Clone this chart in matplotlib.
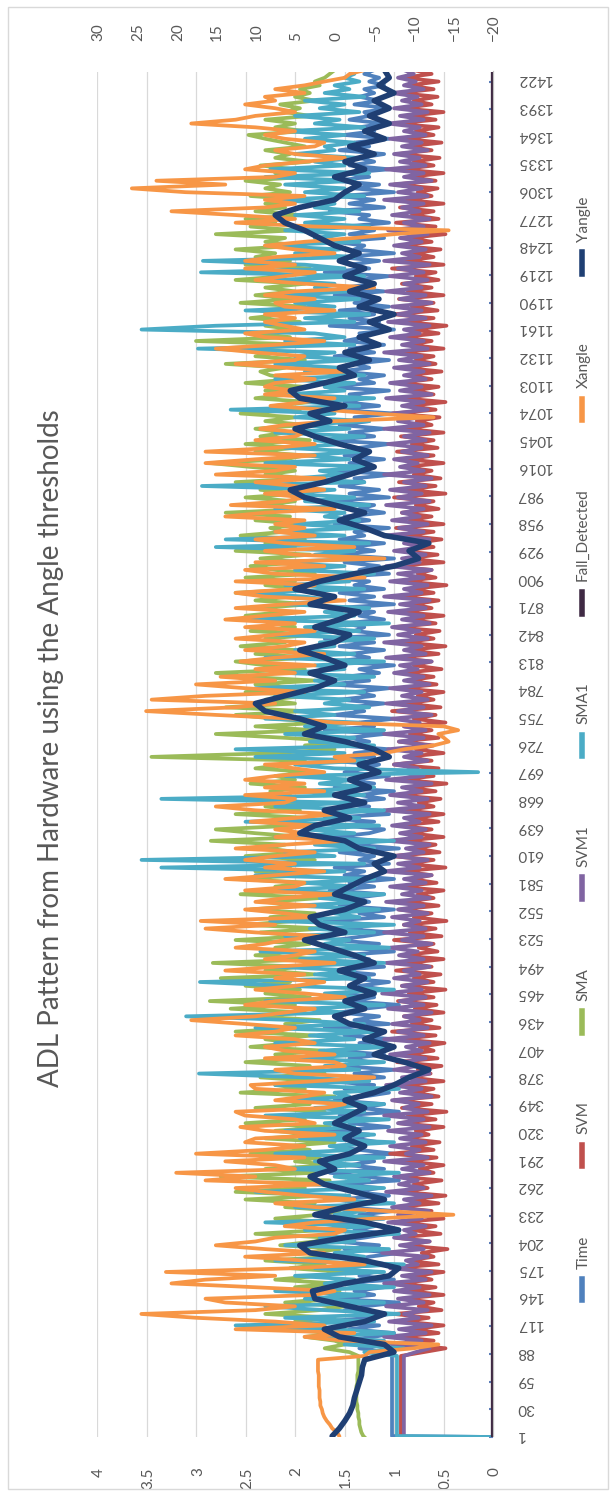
import numpy as np
import matplotlib
matplotlib.use("Agg")
import matplotlib.pyplot as plt
from matplotlib.lines import Line2D
from matplotlib.patches import Rectangle

# sample numbers: the g-force channels every 4th reading, Yangle every 8th
sample = [1, 2] + list(range(6, 1436, 4))
sample_y = [1, 2] + list(range(10, 1440, 8))

time_v = [0, 1.02, 1.02, 1.02, 1.02, 1.02, 1.02, 1.02, 1.02, 1.02, 1.02, 1.02, 1.02, 1.02, 1.02, 1.02, 1.02, 1.02, 1.02, 1.02,
          1.02, 1.02, 1.02, 1.1, 1.35, 1.05, 1.55, 1.2, 1.0, 1.45, 1.15, 1.7, 1.25, 1.05, 1.5, 1.3, 0.95, 1.6, 1.2, 1.4,
          1.1, 1.55, 1.0, 1.35, 1.2, 1.65, 1.05, 1.45, 1.25, 0.95, 1.5, 1.15, 1.6, 1.3, 1.05, 1.4, 1.2, 1.75, 1.1, 1.35,
          1.0, 1.5, 1.25, 1.6, 1.05, 1.4, 1.15, 1.55, 0.95, 1.3, 1.65, 1.1, 1.45, 1.2, 1.5, 1.0, 1.35, 1.6, 1.15, 1.4,
          1.25, 1.7, 1.05, 1.45, 1.2, 1.55, 0.95, 1.35, 1.1, 1.6, 1.3, 1.05, 1.5, 1.2, 1.65, 1.1, 1.4, 1.0, 1.55, 1.25,
          1.45, 1.1, 1.6, 1.2, 1.35, 1.0, 1.5, 1.25, 1.7, 1.05, 1.4, 1.15, 1.55, 1.3, 0.95, 1.45, 1.2, 1.6, 1.1, 1.35,
          1.05, 1.5, 1.2, 1.65, 1.1, 1.4, 1.25, 1.55, 1.0, 1.45, 1.15, 1.6, 1.3, 1.05, 1.5, 1.2, 1.7, 1.1, 1.35, 1.0,
          1.55, 1.25, 1.4, 1.1, 1.65, 1.2, 1.45, 1.0, 1.5, 1.3, 1.6, 1.05, 1.35, 1.2, 1.55, 0.95, 1.4, 1.15, 1.6, 1.25,
          1.1, 1.5, 1.2, 1.7, 1.05, 1.4, 1.25, 1.55, 1.1, 1.35, 1.0, 1.6, 1.2, 1.45, 1.05, 1.5, 1.3, 1.15, 1.65, 1.2,
          1.4, 1.05, 1.55, 1.25, 1.45, 1.1, 1.7, 1.2, 1.35, 1.0, 1.6, 1.3, 1.45, 1.1, 1.55, 1.2, 1.4, 1.05, 1.65, 1.25,
          1.5, 1.15, 1.35, 1.0, 1.6, 1.25, 1.45, 1.1, 1.55, 1.2, 1.7, 1.05, 1.4, 1.3, 1.5, 1.1, 1.35, 1.2, 1.6, 1.0,
          1.45, 1.2, 1.55, 1.1, 1.4, 1.25, 1.65, 1.05, 1.35, 1.15, 1.5, 1.0, 1.6, 1.2, 1.45, 1.1, 1.55, 1.3, 1.4, 1.05,
          1.6, 1.25, 1.5, 1.1, 1.35, 1.2, 1.7, 1.05, 1.45, 1.15, 1.55, 1.3, 1.4, 1.0, 1.6, 1.2, 1.45, 1.1, 1.5, 1.25,
          1.35, 1.05, 1.65, 1.2, 1.45, 1.1, 1.55, 1.25, 1.4, 1.0, 1.6, 1.15, 1.5, 1.3, 1.45, 1.05, 1.7, 1.2, 1.35, 1.1,
          1.55, 1.25, 1.4, 1.05, 1.6, 1.2, 1.45, 1.1, 1.5, 1.3, 1.35, 1.0, 1.65, 1.15, 1.45, 1.2, 1.55, 1.05, 1.4, 1.25,
          1.6, 1.1, 1.5, 1.2, 1.35, 1.05, 1.7, 1.25, 1.45, 1.15, 1.55, 1.0, 1.4, 1.3, 1.6, 1.1, 1.45, 1.2, 1.5, 1.05,
          1.35, 1.25, 1.65, 1.1, 1.45, 1.2, 1.55, 1.0, 1.4, 1.15, 1.6, 1.25, 1.5, 1.05, 1.45, 1.2, 1.35, 1.1, 1.55, 1.25,
          1.4, 1.05, 1.5, 1.2, 1.35, 1.1, 1.45, 1.25, 1.3, 1.05, 1.4, 1.15, 1.35, 1.2, 1.3, 1.1, 1.25, 1.15, 1.3, 1.2]

svm = [0.93, 0.93, 0.93, 0.93, 0.93, 0.93, 0.93, 0.93, 0.93, 0.93, 0.93, 0.93, 0.93, 0.93, 0.93, 0.93, 0.93, 0.93, 0.93, 0.93,
       0.93, 0.93, 0.93, 0.7, 0.48, 0.88, 0.6, 0.95, 0.55, 0.8, 0.5, 0.9, 0.65, 1.0, 0.52, 0.75, 0.6, 0.92, 0.5, 0.85,
       0.58, 0.95, 0.62, 0.78, 0.5, 1.02, 0.55, 0.86, 0.6, 0.72, 0.46, 0.9, 0.64, 0.98, 0.53, 0.82, 0.58, 0.94, 0.5, 0.76,
       0.62, 1.0, 0.55, 0.84, 0.48, 0.92, 0.66, 0.8, 0.52, 0.96, 0.6, 0.74, 0.5, 0.88, 0.57, 1.04, 0.6, 0.82, 0.54, 0.9,
       0.65, 0.78, 0.5, 0.95, 0.58, 0.86, 0.47, 0.92, 0.62, 1.0, 0.55, 0.8, 0.6, 0.93, 0.5, 0.85, 0.63, 0.76, 0.52, 0.97,
       0.56, 0.88, 0.6, 0.74, 0.49, 0.94, 0.58, 1.02, 0.54, 0.82, 0.62, 0.9, 0.5, 0.79, 0.57, 0.96, 0.6, 0.85, 0.48, 0.92,
       0.6, 0.8, 0.53, 0.98, 0.62, 0.86, 0.5, 0.93, 0.56, 0.75, 0.6, 1.0, 0.52, 0.84, 0.58, 0.9, 0.47, 0.8, 0.62, 0.95,
       0.55, 0.88, 0.6, 0.76, 0.5, 0.97, 0.57, 0.83, 0.62, 0.92, 0.48, 0.86, 0.6, 1.03, 0.54, 0.78, 0.58, 0.9, 0.5, 0.84,
       0.62, 0.96, 0.55, 0.8, 0.5, 0.9, 0.6, 0.75, 0.53, 0.98, 0.58, 0.86, 0.47, 0.93, 0.6, 0.82, 0.55, 1.0, 0.62, 0.88,
       0.5, 0.78, 0.6, 0.95, 0.55, 0.84, 0.62, 0.9, 0.48, 0.8, 0.58, 1.02, 0.53, 0.87, 0.6, 0.76, 0.5, 0.94, 0.57, 0.85,
       0.6, 0.92, 0.52, 0.8, 0.62, 0.97, 0.55, 0.86, 0.48, 0.9, 0.6, 0.78, 0.54, 1.0, 0.58, 0.84, 0.5, 0.93, 0.62, 0.8,
       0.55, 0.96, 0.6, 0.82, 0.47, 0.9, 0.58, 0.76, 0.62, 1.02, 0.5, 0.86, 0.56, 0.94, 0.6, 0.8, 0.52, 0.88, 0.6, 0.98,
       0.5, 0.84, 0.62, 0.92, 0.55, 0.78, 0.6, 1.0, 0.48, 0.86, 0.58, 0.95, 0.53, 0.8, 0.62, 0.9, 0.5, 0.85, 0.6, 0.97,
       0.56, 0.82, 0.6, 0.93, 0.5, 0.88, 0.62, 0.77, 0.54, 1.01, 0.58, 0.85, 0.48, 0.92, 0.6, 0.8, 0.55, 0.96, 0.62, 0.86,
       0.52, 0.9, 0.58, 0.78, 0.6, 0.98, 0.5, 0.84, 0.62, 0.93, 0.55, 0.8, 0.47, 0.9, 0.6, 1.0, 0.56, 0.82, 0.6, 0.95,
       0.5, 0.86, 0.62, 0.92, 0.55, 0.78, 0.58, 1.02, 0.5, 0.88, 0.6, 0.8, 0.53, 0.95, 0.62, 0.84, 0.48, 0.9, 0.58, 0.98,
       0.55, 0.82, 0.6, 0.94, 0.5, 0.87, 0.62, 0.76, 0.56, 1.0, 0.58, 0.85, 0.5, 0.92, 0.6, 0.8, 0.54, 0.96, 0.62, 0.86,
       0.52, 0.9, 0.6, 0.78, 0.55, 0.98, 0.58, 0.84, 0.5, 0.92, 0.62, 0.8, 0.56, 0.95, 0.6, 0.85, 0.55, 0.9, 0.62, 0.8]

sma = [1.3, 1.31, 1.33, 1.34, 1.35, 1.35, 1.36, 1.36, 1.37, 1.37, 1.38, 1.38, 1.38, 1.38, 1.38, 1.37, 1.37, 1.37, 1.36, 1.36,
       1.36, 1.36, 1.36, 1.45, 1.7, 1.5, 1.6, 1.9, 1.55, 2.2, 1.7, 2.0, 1.6, 2.3, 1.75, 1.5, 2.1, 1.65, 1.95, 1.55,
       2.0, 1.6, 2.2, 1.75, 1.5, 2.05, 1.7, 2.3, 1.6, 1.9, 1.55, 2.15, 1.8, 1.65, 2.4, 1.7, 1.95, 1.6, 2.2, 1.75,
       1.55, 2.1, 1.8, 2.5, 1.7, 2.6, 1.9, 2.2, 1.65, 2.75, 1.8, 2.3, 1.6, 2.0, 1.75, 2.45, 1.85, 2.1, 1.6, 2.3,
       1.8, 2.2, 1.65, 2.5, 1.9, 2.0, 1.7, 2.4, 1.85, 2.1, 1.6, 2.55, 1.9, 2.2, 1.75, 2.35, 1.7, 2.0, 1.85, 2.5,
       1.9, 2.2, 1.7, 2.45, 2.0, 2.3, 1.8, 2.6, 1.95, 2.1, 1.75, 2.4, 1.9, 2.65, 2.0, 2.86, 1.85, 2.3, 1.95, 2.5,
       2.05, 2.75, 1.8, 2.3, 1.95, 2.83, 1.75, 2.4, 2.0, 2.2, 1.85, 2.6, 1.9, 2.35, 1.7, 2.5, 2.0, 2.25, 1.8, 2.45,
       1.95, 2.3, 1.75, 2.55, 2.0, 2.2, 1.85, 2.6, 1.9, 2.4, 2.05, 2.25, 1.8, 2.5, 1.95, 2.3, 2.1, 2.85, 1.9, 2.4,
       2.8, 2.0, 2.35, 1.85, 2.6, 1.95, 2.3, 1.8, 2.5, 2.05, 2.25, 1.9, 2.45, 2.0, 2.2, 1.85, 2.4, 2.1, 1.9, 3.45,
       2.2, 1.6, 1.9, 1.5, 2.1, 2.8, 1.8, 2.4, 1.7, 2.2, 2.6, 1.9, 2.7, 2.0, 2.3, 1.85, 2.5, 2.0, 2.4, 1.8,
       2.5, 2.8, 1.9, 2.3, 2.6, 1.85, 2.4, 2.0, 2.55, 2.1, 2.3, 1.8, 2.45, 2.0, 2.2, 1.9, 2.5, 2.1, 2.35, 1.85,
       2.4, 2.05, 2.6, 1.9, 2.3, 2.0, 2.5, 1.8, 2.2, 2.45, 1.95, 2.35, 1.85, 2.6, 2.0, 2.3, 1.9, 2.55, 2.1, 2.25,
       1.9, 2.4, 2.05, 2.7, 1.85, 2.3, 2.0, 2.5, 1.95, 2.35, 2.1, 2.6, 1.9, 2.3, 2.0, 2.45, 2.85, 2.1, 1.9, 2.4,
       2.0, 2.5, 1.85, 2.35, 2.1, 2.4, 1.9, 2.3, 2.0, 2.55, 1.95, 2.2, 1.85, 2.4, 2.05, 2.3, 1.9, 2.5, 2.0, 2.25,
       2.35, 2.1, 2.7, 1.9, 2.4, 2.2, 2.5, 1.85, 3.0, 2.05, 2.4, 2.0, 2.3, 1.95, 2.45, 2.1, 2.35, 1.9, 2.55, 2.0,
       2.4, 2.0, 2.3, 1.9, 2.6, 2.1, 2.35, 1.85, 2.5, 2.05, 2.4, 2.2, 2.6, 1.95, 2.3, 2.1, 2.8, 2.0, 2.45, 2.2,
       2.5, 1.95, 2.4, 2.1, 2.3, 1.9, 2.45, 2.05, 2.3, 2.15, 2.5, 1.9, 2.2, 2.0, 2.35, 1.85, 2.2, 2.05, 2.3, 1.9,
       2.1, 2.3, 2.47, 1.9, 2.2, 2.0, 2.3, 1.85, 2.1, 1.95, 2.15, 1.8, 2.0, 1.85, 1.95, 1.75, 1.8, 1.7, 1.65, 1.6]

svm1 = [0.9, 0.9, 0.9, 0.9, 0.9, 0.9, 0.9, 0.9, 0.9, 0.9, 0.9, 0.9, 0.9, 0.9, 0.9, 0.9, 0.9, 0.9, 0.9, 0.9,
        0.9, 0.9, 0.9, 0.78, 0.64, 1.02, 0.72, 1.1, 0.68, 0.95, 0.62, 1.05, 0.75, 0.9, 0.66, 1.08, 0.7, 0.96, 0.64, 1.0,
        0.74, 1.1, 0.68, 0.92, 0.62, 1.04, 0.76, 0.88, 0.66, 1.12, 0.7, 0.94, 0.64, 1.0, 0.78, 0.9, 0.68, 1.06, 0.72, 0.96,
        0.65, 1.02, 0.74, 0.9, 0.62, 1.08, 0.7, 0.95, 0.76, 1.0, 0.64, 0.92, 0.7, 1.1, 0.66, 0.88, 0.74, 1.04, 0.68, 0.94,
        0.72, 1.06, 0.64, 0.96, 0.7, 1.1, 0.66, 0.9, 0.75, 1.02, 0.62, 0.94, 0.72, 1.08, 0.68, 0.92, 0.64, 1.0, 0.76, 0.9,
        0.68, 1.04, 0.72, 0.88, 0.64, 1.1, 0.7, 0.96, 0.66, 1.02, 0.74, 0.9, 0.62, 1.06, 0.7, 0.94, 0.68, 1.12, 0.72, 0.92,
        0.66, 1.0, 0.74, 0.9, 0.64, 1.08, 0.7, 0.95, 0.76, 1.04, 0.62, 0.92, 0.7, 1.1, 0.68, 0.9, 0.74, 1.02, 0.66, 0.96,
        0.7, 1.08, 0.64, 0.92, 0.72, 1.04, 0.68, 0.9, 0.62, 1.1, 0.74, 0.96, 0.66, 1.0, 0.7, 0.88, 0.64, 1.06, 0.72, 0.94,
        0.68, 1.02, 0.74, 0.9, 0.64, 1.1, 0.7, 0.96, 0.66, 1.04, 0.72, 0.92, 0.62, 1.08, 0.7, 0.94, 0.76, 1.0, 0.66, 0.9,
        0.72, 1.06, 0.64, 0.95, 0.7, 1.1, 0.68, 0.9, 0.74, 1.02, 0.62, 0.96, 0.7, 1.08, 0.66, 0.92, 0.72, 1.04, 0.64, 0.9,
        0.7, 1.0, 0.76, 0.94, 0.62, 1.08, 0.68, 0.9, 0.72, 1.1, 0.66, 0.96, 0.74, 1.02, 0.64, 0.92, 0.7, 1.06, 0.68, 0.94,
        0.64, 1.1, 0.72, 0.9, 0.66, 1.04, 0.7, 0.96, 0.62, 1.08, 0.74, 0.92, 0.68, 1.0, 0.72, 0.9, 0.64, 1.1, 0.7, 0.95,
        0.66, 1.02, 0.74, 0.92, 0.7, 1.08, 0.64, 0.96, 0.72, 1.04, 0.68, 0.9, 0.62, 1.1, 0.7, 0.94, 0.76, 1.0, 0.66, 0.92,
        0.72, 1.06, 0.68, 0.9, 0.64, 1.1, 0.7, 0.96, 0.74, 1.02, 0.66, 0.92, 0.7, 1.08, 0.62, 0.94, 0.72, 1.04, 0.68, 0.9,
        0.7, 1.0, 0.64, 0.95, 0.72, 1.1, 0.66, 0.92, 0.7, 1.04, 0.74, 0.9, 0.64, 1.06, 0.68, 0.96, 0.72, 1.02, 0.62, 0.94,
        0.68, 1.08, 0.72, 0.9, 0.66, 1.04, 0.7, 0.96, 0.64, 1.1, 0.74, 0.92, 0.68, 1.0, 0.72, 0.94, 0.66, 1.06, 0.7, 0.9,
        0.64, 1.02, 0.74, 0.92, 0.7, 1.1, 0.66, 0.96, 0.72, 1.04, 0.62, 0.9, 0.7, 1.08, 0.68, 0.94, 0.74, 1.0, 0.66, 0.92,
        0.72, 1.04, 0.68, 0.9, 0.74, 1.06, 0.7, 0.94, 0.66, 1.0, 0.72, 0.92, 0.76, 1.02, 0.7, 0.9, 0.78, 0.96, 0.8, 0.9]

sma1 = [0.0, 0.97, 0.97, 0.97, 0.97, 0.97, 0.97, 0.97, 0.97, 0.97, 0.97, 0.97, 0.97, 0.97, 0.97, 0.97, 0.97, 0.97, 0.97, 0.97,
        0.97, 0.97, 0.97, 1.3, 0.9, 1.5, 1.1, 1.8, 1.0, 1.6, 2.6, 1.2, 2.1, 0.95, 1.7, 2.3, 1.1, 1.9, 1.3, 2.2,
        1.0, 1.7, 1.4, 2.0, 1.1, 1.8, 0.9, 2.2, 1.3, 1.6, 1.05, 2.1, 1.4, 1.75, 0.95, 1.9, 1.2, 2.3, 1.1, 1.6,
        1.3, 2.0, 1.0, 1.7, 1.45, 2.4, 1.1, 1.85, 1.25, 1.6, 0.95, 2.1, 1.35, 1.8, 1.1, 2.2, 1.4, 1.65, 1.0, 1.95,
        1.2, 2.1, 1.4, 1.7, 1.05, 2.3, 1.3, 1.8, 1.1, 2.0, 1.45, 1.6, 0.95, 2.2, 1.25, 1.9, 2.97, 1.35, 1.7, 1.1,
        2.0, 1.3, 1.75, 1.05, 2.2, 1.4, 1.85, 1.15, 2.4, 1.3, 2.0, 3.1, 1.5, 1.9, 1.1, 2.3, 1.35, 1.7, 1.0, 2.1,
        2.96, 1.25, 1.8, 1.4, 2.2, 1.1, 1.95, 1.3, 2.35, 1.05, 1.7, 1.45, 2.1, 1.2, 1.85, 1.0, 2.25, 1.35, 1.6, 1.15,
        2.0, 1.3, 1.75, 1.1, 2.3, 1.4, 1.9, 1.2, 2.4, 1.5, 3.35, 1.3, 3.55, 1.6, 2.1, 1.2, 1.8, 1.0, 2.2, 1.4,
        1.9, 1.15, 2.5, 1.35, 1.8, 1.1, 2.2, 1.45, 3.35, 1.3, 2.0, 1.2, 1.75, 1.4, 2.1, 0.15, 1.6, 2.0, 1.3, 2.4,
        1.5, 2.6, 1.2, 1.85, 1.4, 2.1, 1.1, 1.9, 1.35, 2.3, 1.6, 2.0, 1.25, 1.7, 1.45, 2.2, 1.3, 2.4, 1.5, 1.8,
        1.2, 2.1, 1.5, 1.8, 1.1, 2.3, 1.4, 2.0, 1.6, 1.75, 1.2, 2.2, 1.35, 1.9, 1.05, 2.5, 1.4, 1.7, 1.25, 2.1,
        1.6, 1.9, 2.5, 1.3, 2.1, 1.45, 1.75, 1.2, 2.0, 1.5, 2.3, 1.15, 1.8, 1.4, 2.8, 1.25, 2.7, 1.5, 2.2, 1.3,
        2.0, 1.35, 1.7, 1.5, 2.2, 1.25, 1.9, 1.4, 2.1, 1.6, 2.94, 1.3, 2.0, 1.5, 1.75, 1.2, 2.3, 1.45, 1.9, 1.35,
        2.1, 1.5, 1.8, 1.3, 2.2, 1.45, 1.95, 1.25, 2.0, 1.6, 2.65, 1.35, 1.9, 1.2, 2.1, 1.5, 1.7, 1.4, 2.2, 1.3,
        1.9, 1.55, 2.2, 1.35, 2.0, 1.6, 2.98, 1.4, 2.1, 1.5, 1.8, 3.55, 2.8, 1.4, 1.9, 1.25, 2.5, 1.6, 2.0, 1.35,
        2.1, 1.45, 1.8, 1.6, 2.2, 1.3, 2.95, 1.5, 1.9, 2.93, 1.4, 2.0, 1.55, 2.3, 1.35, 1.8, 1.5, 2.1, 1.25, 1.9,
        1.5, 2.0, 1.35, 1.8, 1.6, 2.2, 1.3, 1.9, 1.5, 2.1, 1.4, 2.3, 1.25, 2.25, 1.5, 1.8, 1.35, 2.0, 1.6, 1.7,
        1.4, 1.9, 1.5, 2.1, 1.3, 1.8, 1.55, 2.0, 1.35, 1.75, 1.5, 1.9, 1.3, 1.7, 1.45, 1.6, 1.35, 1.5, 1.4, 1.45]

fall_detected = [0] * len(sample)

# angles in degrees, read against the secondary axis
xangle = [-0.6, -0.6, -0.3, 0.3, 0.6, 1.0, 1.3, 1.5, 1.6, 1.8, 1.8, 1.9, 1.9, 1.9, 2.0, 2.0, 2.0, 2.0, 2.1, 2.1,
          2.1, 2.1, -3.8, -4.4, -10.0, -13.1, -1.3, 3.8, -2.5, 12.5, 1.3, 7.5, 17.5, 24.4, 10.0, 5.0, 13.8, 16.3, 2.5, 0.0,
          10.0, 20.6, 16.3, 7.5, 21.3, 5.0, -3.8, 3.8, 11.3, 1.3, 8.8, 15.0, 10.0, 7.5, 0.0, -1.3, 6.3, 2.5, -5.0, -15.0,
          -6.3, 2.5, 7.5, -2.5, 3.8, 8.8, 12.5, 1.3, 16.3, 10.0, 20.0, 5.0, 7.5, 13.8, 3.8, 17.5, 8.8, 3.8, 11.3, 10.0,
          0.0, 8.8, 11.9, 2.5, 5.0, 11.3, 12.5, 1.3, -1.3, 7.5, 3.8, 1.3, 10.0, 10.6, 2.5, -5.0, 5.0, 7.5, -1.3, 0.0,
          8.8, 0.0, 6.3, 8.8, 2.5, 5.0, 12.5, 7.5, 5.0, 11.3, 18.1, 10.0, 6.3, 2.5, 11.3, 7.5, -1.3, 3.8, 10.0, 5.0,
          1.3, 7.5, 3.8, 13.8, 7.5, 0.0, 8.8, 5.0, 2.5, 12.5, 8.8, 6.3, 1.3, 10.0, 16.3, 7.5, 16.9, 2.5, 6.3, 11.3,
          2.5, 10.0, 6.3, 0.0, 11.3, 5.0, 3.8, 13.8, 7.5, 1.3, 8.8, 5.0, 11.3, 7.5, 2.5, 12.5, 6.3, -1.3, 7.5, 3.8,
          7.5, 2.5, 10.6, 5.0, 0.0, 10.0, 15.0, 6.3, 5.0, 11.3, 1.3, 8.8, 3.8, 11.3, 7.5, 1.3, 5.0, 8.8, -2.5, 0.0,
          -6.3, -8.8, -12.5, -14.4, -13.8, -13.1, -15.6, -13.8, 0.0, 5.0, 15.0, 23.8, 12.5, 7.5, 23.1, 16.3, 3.8, 11.3, 17.5, 7.5,
          14.4, 5.0, 10.0, 2.5, 11.9, 7.5, 1.3, 11.3, 6.3, 3.8, 12.5, 7.5, 2.5, 11.3, 5.0, 13.8, 8.8, 3.8, 12.5, 6.3,
          -1.3, 8.8, 12.5, 5.0, 2.5, 12.5, -3.8, 7.5, 11.3, 1.3, 10.0, -6.3, 5.0, 8.8, -2.5, 6.3, 10.0, 2.5, 7.5, 3.8,
          7.5, 3.8, 13.8, 8.8, 0.0, 13.1, 6.3, 3.8, 8.8, 1.3, 5.0, 10.0, 1.3, 15.0, 7.5, 5.0, 16.3, 10.0, 2.5, 16.3,
          7.5, 2.5, 10.0, 5.0, 3.8, 9.4, 6.3, 0.0, -12.5, -5.0, 1.3, 8.1, 3.8, 0.0, 8.8, 5.0, 8.8, 7.5, 2.5, 7.5,
          -1.3, 6.3, 12.5, 5.0, 3.8, 10.0, 15.0, 7.5, 1.3, 8.8, 11.3, 3.8, 6.3, 8.8, 5.0, 8.8, 0.0, 6.3, 7.5, 2.5,
          8.8, 5.0, -5.0, 3.8, 10.0, 6.3, 2.5, 11.3, 5.0, 11.3, 7.5, 0.0, 5.0, 8.8, 3.8, -2.5, -7.5, -14.4, 2.5, 12.5,
          5.0, 12.5, 20.6, 8.8, 5.0, 8.8, 3.8, 18.8, 25.6, 13.8, 22.5, 7.5, 5.0, 11.3, 8.8, 3.8, -1.3, 5.0, 7.5, 2.5,
          1.3, 6.3, 8.8, 5.0, 10.0, 18.1, 12.5, 10.0, 5.0, 7.5, 11.3, 7.5, 8.8, 3.8, 7.5, 3.8, 1.3, -1.3, -1.9, -3.8]

yangle = [0.3, 0.3, -0.6, -1.3, -1.9, -2.3, -2.5, -2.8, -3.1, -3.4,
          -3.5, -3.8, -7.5, -6.3, -0.6, 1.3, -3.8, -6.3, -1.9, 2.5,
          2.8, -1.3, -6.9, -8.1, -3.8, 3.1, 4.4, -1.3, -8.1, -3.8,
          2.5, -1.3, -6.3, -2.5, 1.3, 3.1, 0.0, 1.9, -1.9, -3.8,
          -1.3, -3.1, 0.0, -1.9, -3.8, -1.3, -5.0, -7.5, -9.4, -11.9,
          -8.8, -5.0, -7.5, -3.8, -6.3, -1.9, 0.0, -3.8, -1.3, -5.0,
          -1.9, -3.8, -0.6, -5.0, -2.5, 0.6, 3.8, -1.3, 1.9, 3.1,
          -1.3, -3.8, 0.0, -1.9, -3.8, -6.3, -5.0, -7.5, -3.1, -1.3,
          4.4, 2.5, -1.9, 1.3, -3.8, 0.0, -4.4, -1.9, -5.6, -3.1,
          -6.9, -5.0, -1.3, 3.8, 1.3, 4.4, 8.8, 10.0, 6.3, 2.5,
          0.0, 3.1, -1.3, 1.3, 4.4, 0.0, -1.9, 2.5, -0.6, -3.1,
          3.1, 0.0, 5.0, 1.9, -2.5, -7.5, -10.6, -9.4, -11.9, -6.3,
          -3.8, -0.6, -3.8, 0.0, 3.8, 5.6, 1.3, -1.9, -5.0, -2.5,
          -4.4, -0.6, 2.5, 5.0, 0.6, 3.1, -1.3, 4.4, 5.6, 1.3,
          -2.5, -0.6, -4.4, -1.3, -5.6, -3.1, -6.9, -4.4, -7.5, -3.1,
          -5.6, -1.9, -5.0, -1.3, -3.8, -0.6, -3.1, 0.0, 1.9, 3.8,
          6.3, 7.5, 4.4, 0.0, -1.3, -3.1, 0.0, -3.8, -1.3, -5.0,
          -1.9, -6.3, -3.8, -6.9, -4.4, -6.9, -5.0, -7.5, -5.6, -6.9,
          -6.3]

names = ["Time", "SVM", "SMA", "SVM1", "SMA1", "Fall_Detected", "Xangle", "Yangle"]
colors = ["#4f81bd", "#c0504d", "#9bbb59", "#8064a2", "#4bacc6", "#3f2a44", "#f79646", "#1f3f73"]

left_ticks = [0, 0.5, 1, 1.5, 2, 2.5, 3, 3.5, 4]
left_labels = ["0", "0.5", "1", "1.5", "2", "2.5", "3", "3.5", "4"]
right_ticks = [-20, -15, -10, -5, 0, 5, 10, 15, 20, 25, 30]
cat_ticks = list(range(1, 1423, 29))

plt.rcParams['font.family'] = ['Lato', 'DejaVu Sans']
grey = "#595959"

# the chart is laid out landscape first and turned upright at the end
W, H = 1498, 616
fig = plt.figure(figsize=(W / 100, H / 100), dpi=100)
fig.patch.set_facecolor("white")
fig.add_artist(Rectangle((8 / W, 8 / H), (W - 16) / W, (H - 16) / H,
                         transform=fig.transFigure, fill=False,
                         edgecolor="#d9d9d9", lw=1))

ax = fig.add_axes([61 / W, 1 - 493 / H, (1426 - 61) / W, (493 - 97) / H])
ax2 = ax.twinx()

primary = [time_v, svm, sma, svm1, sma1]
for vals, c in zip(primary, colors[:5]):
    ax.plot(sample, vals, color=c, lw=2.7, solid_joinstyle="round")
ax.plot(sample, fall_detected, color=colors[5], lw=3.8, zorder=3)
ax2.plot(sample, xangle, color=colors[6], lw=2.7, solid_joinstyle="round")
ax2.plot(sample_y, yangle, color=colors[7], lw=4.0, solid_joinstyle="round")

ax.set_xlim(1, 1432)
ax.set_ylim(0, 4)
ax2.set_ylim(-20, 30)
ax.set_yticks(left_ticks)
ax.set_yticklabels(left_labels)
ax2.set_yticks(right_ticks)
ax.set_xticks(cat_ticks)
ax.set_xticklabels([str(c) for c in cat_ticks], rotation=90)
ax.yaxis.grid(True, color="#d9d9d9", lw=0.9)
ax.set_axisbelow(True)
for a in (ax, ax2):
    for s in ("top", "left", "right"):
        a.spines[s].set_visible(False)
    a.spines["bottom"].set_color("#bfbfbf")
ax.tick_params(axis="y", length=0, pad=23, labelsize=11, labelcolor=grey)
ax2.tick_params(axis="y", length=0, pad=21, labelsize=11, labelcolor=grey)
ax.tick_params(axis="x", length=3, width=1.5, color="#5b7db8", direction="in",
               pad=17, labelsize=11, labelcolor=grey)

fig.text(0.5, 1 - 50 / H, "ADL Pattern from Hardware using the Angle thresholds",
         ha="center", va="center", fontsize=20, color=grey)

handles = [Line2D([], [], color=c, lw=4) for c in colors]
leg = fig.legend(handles, names, loc="center", bbox_to_anchor=(0.5, 1 - 583 / H),
                 ncol=8, frameon=False, fontsize=11, handlelength=1.4,
                 handletextpad=0.6, columnspacing=4.6)
for t in leg.get_texts():
    t.set_color(grey)

fig.canvas.draw()
img = np.asarray(fig.canvas.buffer_rgba())
plt.imsave("out.png", np.rot90(img))
